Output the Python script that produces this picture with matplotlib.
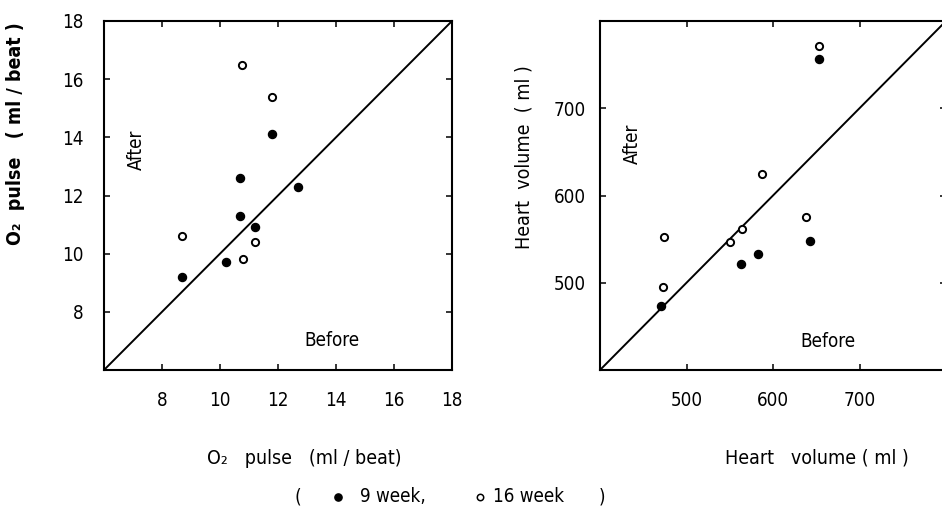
import matplotlib
matplotlib.use("Agg")
import matplotlib.pyplot as plt
from matplotlib.lines import Line2D

plt.rcParams['font.family'] = ['DejaVu Sans']
plt.rcParams['font.stretch'] = 'condensed'

# O2 pulse (ml/beat), before vs after
o2_9wk_before = [8.7, 10.2, 10.7, 10.7, 11.2, 11.8, 12.7]
o2_9wk_after = [9.2, 9.7, 11.3, 12.6, 10.9, 14.1, 12.3]
o2_16wk_before = [8.7, 10.75, 11.8, 10.8, 11.2]
o2_16wk_after = [10.6, 16.5, 15.4, 9.8, 10.4]

# Heart volume (ml), before vs after
hv_9wk_before = [470, 563, 583, 643, 653]
hv_9wk_after = [473, 522, 533, 548, 757]
hv_16wk_before = [473, 474, 550, 564, 587, 638, 653]
hv_16wk_after = [495, 552, 547, 562, 625, 575, 771]

o2_ticks = [8, 10, 12, 14, 16, 18]
hv_ticks = [500, 600, 700]

W, H = 942, 509


def fx(px):
    return px / W


def fy(py):
    return 1 - py / H


fig = plt.figure(figsize=(W / 100, H / 100), dpi=100)
ax1 = fig.add_axes([fx(104), fy(370), 348 / W, 349 / H])
ax2 = fig.add_axes([fx(600), fy(370), 346 / W, 349 / H])


def style(ax, lim, ticks, ypad):
    ax.set_xlim(lim)
    ax.set_ylim(lim)
    ax.plot(lim, lim, color='black', lw=1.4)
    ax.set_xticks(ticks)
    ax.set_yticks(ticks)
    ax.tick_params(direction='in', length=4.5, width=1.1, top=True, right=True,
                   labelsize=13.5)
    ax.tick_params(axis='x', pad=15)
    ax.tick_params(axis='y', pad=ypad)
    for s in ax.spines.values():
        s.set_linewidth(1.5)


style(ax1, (6, 18), o2_ticks, 15)
style(ax2, (400, 800), hv_ticks, 10)

ax1.plot(o2_9wk_before, o2_9wk_after, 'o', color='black', ms=5.8)
ax1.plot(o2_16wk_before, o2_16wk_after, 'o', mfc='white', mec='black', ms=5.2, mew=1.4)
ax2.plot(hv_9wk_before, hv_9wk_after, 'o', color='black', ms=5.8)
ax2.plot(hv_16wk_before, hv_16wk_after, 'o', mfc='white', mec='black', ms=5.2, mew=1.4)

ax1.text(7.1, 13.56, 'After', rotation=90, ha='center', va='center', fontsize=13.5)
ax1.text(13.87, 7.0, 'Before', ha='center', va='center', fontsize=13.5)
ax2.text(437, 659, 'After', rotation=90, ha='center', va='center', fontsize=13.5)
ax2.text(664, 433, 'Before', ha='center', va='center', fontsize=13.5)

fig.text(fx(16), fy(134), 'O₂  pulse   ( ml / beat )', rotation=90, ha='center',
         va='center', fontsize=14, fontweight='bold')
fig.text(fx(524), fy(157), 'Heart  volume  ( ml )', rotation=90, ha='center',
         va='center', fontsize=14)
fig.text(fx(304), fy(458), 'O₂   pulse   (ml / beat)', ha='center', va='center', fontsize=14)
fig.text(fx(817), fy(458), 'Heart   volume ( ml )', ha='center', va='center', fontsize=14)

# legend line
fig.text(fx(298), fy(497), '(', ha='center', va='center', fontsize=13.5)
fig.add_artist(Line2D([fx(338)], [fy(497)], marker='o', color='black', ms=5.2,
                      transform=fig.transFigure))
fig.text(fx(360), fy(497), '9 week,', ha='left', va='center', fontsize=13.5)
fig.add_artist(Line2D([fx(480)], [fy(497)], marker='o', mfc='white', mec='black',
                      ms=4.6, mew=1.1, transform=fig.transFigure))
fig.text(fx(493), fy(497), '16 week', ha='left', va='center', fontsize=13.5)
fig.text(fx(602), fy(497), ')', ha='center', va='center', fontsize=13.5)

fig.savefig('out.png', dpi=100)
